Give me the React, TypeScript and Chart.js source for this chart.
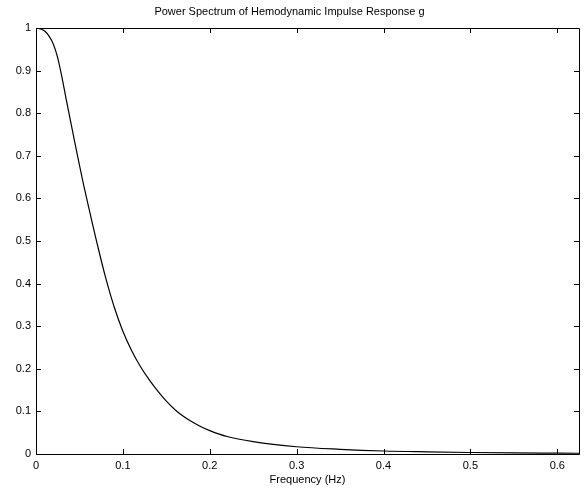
import React, { useEffect, useRef } from "react";
import { Chart, registerables } from "chart.js";

Chart.register(...registerables);

const TITLE = "Power Spectrum of Hemodynamic Impulse Response g";
const X_TITLE = "Frequency (Hz)";

const freq = [0, 0.005, 0.01, 0.015, 0.02, 0.025, 0.03, 0.035, 0.04, 0.045, 0.05, 0.055, 0.06, 0.065, 0.07, 0.08, 0.09, 0.1, 0.11, 0.12, 0.13, 0.14, 0.15, 0.16, 0.17, 0.18, 0.19, 0.2, 0.22, 0.25, 0.3, 0.35, 0.4, 0.45, 0.5, 0.55, 0.6, 0.625];
const power = [1.0, 0.998, 0.993, 0.981, 0.962, 0.93, 0.883, 0.83, 0.779, 0.728, 0.678, 0.63, 0.585, 0.54, 0.497, 0.415, 0.345, 0.288, 0.243, 0.206, 0.175, 0.148, 0.124, 0.104, 0.088, 0.075, 0.064, 0.055, 0.041, 0.029, 0.017, 0.011, 0.007, 0.005, 0.0035, 0.0025, 0.002, 0.0018];

const xTicks = [0, 0.1, 0.2, 0.3, 0.4, 0.5, 0.6];
const yTicks = [0, 0.1, 0.2, 0.3, 0.4, 0.5, 0.6, 0.7, 0.8, 0.9, 1];

const FONT = "'Liberation Sans', Arial, Helvetica, sans-serif";

const framePlugin = {
  id: "matlabFrame",
  afterDraw(chart: any) {
    const { ctx, chartArea } = chart;
    const { left, right, top, bottom } = chartArea;
    const xs = chart.scales.x;
    const ys = chart.scales.y;
    ctx.save();
    ctx.strokeStyle = "#000";
    ctx.lineWidth = 1;
    ctx.beginPath();
    ctx.rect(Math.round(left) + 0.5, Math.round(top) + 0.5, Math.round(right - left), Math.round(bottom - top));
    ctx.stroke();
    const tl = 5;
    ctx.beginPath();
    xTicks.forEach((v) => {
      const px = Math.round(xs.getPixelForValue(v)) + 0.5;
      ctx.moveTo(px, bottom);
      ctx.lineTo(px, bottom - tl);
      ctx.moveTo(px, top);
      ctx.lineTo(px, top + tl);
    });
    yTicks.forEach((v) => {
      const py = Math.round(ys.getPixelForValue(v)) + 0.5;
      ctx.moveTo(left, py);
      ctx.lineTo(left + tl, py);
      ctx.moveTo(right, py);
      ctx.lineTo(right - tl, py);
    });
    ctx.stroke();
    ctx.restore();
  },
};

export default function App() {
  const ref = useRef<HTMLCanvasElement | null>(null);
  useEffect(() => {
    if (!ref.current) return;
    const chart = new Chart(ref.current, {
      type: "line",
      data: {
        datasets: [
          {
            data: freq.map((f, i) => ({ x: f, y: power[i] })),
            borderColor: "#000",
            borderWidth: 1.2,
            pointRadius: 0,
            cubicInterpolationMode: "monotone",
            fill: false,
          },
        ],
      },
      options: {
        responsive: false,
        animation: false,
        layout: { padding: { left: 0, right: 7, top: 0, bottom: 0 } },
        plugins: {
          legend: { display: false },
          tooltip: { enabled: false },
          title: {
            display: true,
            text: TITLE,
            color: "#000",
            font: { family: FONT, size: 11, weight: "normal" },
            padding: { top: 5, bottom: 9.8 },
          },
        },
        scales: {
          x: {
            type: "linear",
            min: 0,
            max: 0.625,
            afterBuildTicks: (s: any) => {
              s.ticks = xTicks.map((v) => ({ value: v }));
            },
            afterFit: (s: any) => {
              s.height = 37;
            },
            grid: { display: false, drawTicks: false },
            border: { display: false },
            ticks: {
              color: "#000",
              font: { family: FONT, size: 11 },
              padding: 5,
              maxRotation: 0,
              autoSkip: false,
              callback: (v: any) => String(Number(v)),
            },
            title: {
              display: true,
              text: X_TITLE,
              color: "#000",
              font: { family: FONT, size: 11 },
              padding: { top: 0, bottom: 4 },
            },
          },
          y: {
            type: "linear",
            min: 0,
            max: 1,
            afterBuildTicks: (s: any) => {
              s.ticks = yTicks.map((v) => ({ value: v }));
            },
            afterFit: (s: any) => {
              s.width = 36;
            },
            grid: { display: false, drawTicks: false },
            border: { display: false },
            ticks: {
              color: "#000",
              font: { family: FONT, size: 11 },
              padding: 5,
              autoSkip: false,
              callback: (v: any) => String(Number(v)),
            },
          },
        },
      },
      plugins: [framePlugin],
    } as any);
    return () => chart.destroy();
  }, []);
  return (
    <div style={{ position: "absolute", left: 0, top: 0, width: 586, height: 491, background: "#fff" }}>
      <canvas ref={ref} width={586} height={491} />
    </div>
  );
}
